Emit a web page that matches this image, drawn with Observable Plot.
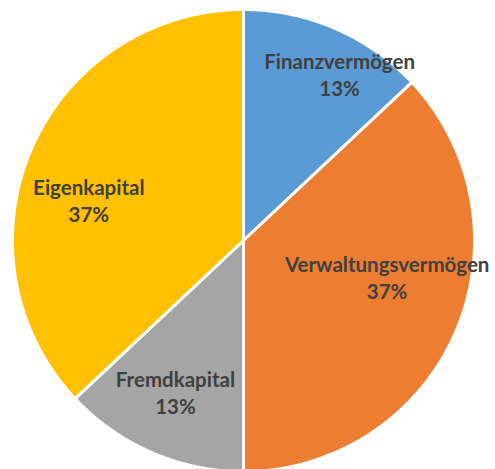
<!DOCTYPE html>
<html>
<head>
<meta charset="utf-8">
<script src="https://cdn.jsdelivr.net/npm/d3@7"></script>
<script src="https://cdn.jsdelivr.net/npm/@observablehq/plot@0.6"></script>
<style>
  html, body { margin: 0; padding: 0; background: #fff; }
  #chart { width: 495px; height: 469px; overflow: hidden; }
</style>
</head>
<body>
<div id="chart"></div>
<script>
// Data
const categories = ["Finanzvermögen", "Verwaltungsvermögen", "Fremdkapital", "Eigenkapital"];
const shares = [13, 37, 13, 37];

// Styles (kept apart from data)
const sliceColors = ["#5B9BD5", "#ED7D31", "#A5A5A5", "#FFC000"];
const labelNudge = { // pixel fine-tuning of label placement, like Excel's best-fit
  "Finanzvermögen": [30, -14],
  "Verwaltungsvermögen": [-9, -30],
  "Fremdkapital": [-2, -1],
  "Eigenkapital": [-2, 25]
};

const W = 495, H = 469;
const cx = 243, cy = 240, R = 231;

// pie layout (clockwise from top)
const pie = d3.pie().sort(null).value(d => d)(shares);
const total = d3.sum(shares);

const polys = [];
const labels = [];
pie.forEach((p, i) => {
  const name = categories[i];
  polys.push({name, x: 0, y: 0});
  const steps = Math.max(2, Math.ceil((p.endAngle - p.startAngle) / (Math.PI / 360)));
  for (let k = 0; k <= steps; k++) {
    const a = p.startAngle + (p.endAngle - p.startAngle) * k / steps;
    polys.push({name, x: Math.sin(a), y: Math.cos(a)});
  }
  polys.push({name, x: 0, y: 0});
  const mid = (p.startAngle + p.endAngle) / 2;
  labels.push({
    name,
    x: 0.72 * Math.sin(mid) + labelNudge[name][0] / R,
    y: 0.72 * Math.cos(mid) - labelNudge[name][1] / R,
    text: name + "\n" + Math.round(100 * shares[i] / total) + "%"
  });
});

const chart = Plot.plot({
  width: W,
  height: H,
  margin: 0,
  x: {domain: [-cx / R, (W - cx) / R], axis: null},
  y: {domain: [(cy - H) / R, cy / R], axis: null},
  color: {domain: categories, range: sliceColors},
  style: {background: "#fff", fontFamily: "Lato, 'Open Sans', sans-serif"},
  marks: [
    Plot.line(polys, {x: "x", y: "y", z: "name", fill: "name", stroke: "white", strokeWidth: 3, strokeLinejoin: "miter", curve: "linear"}),
    Plot.text(labels, {x: "x", y: "y", text: "text", fill: "#404040", fontSize: 20.5, fontWeight: "bold", lineHeight: 1.32, textAnchor: "middle", lineAnchor: "middle"})
  ]
});
document.getElementById("chart").append(chart);
</script>
</body>
</html>
